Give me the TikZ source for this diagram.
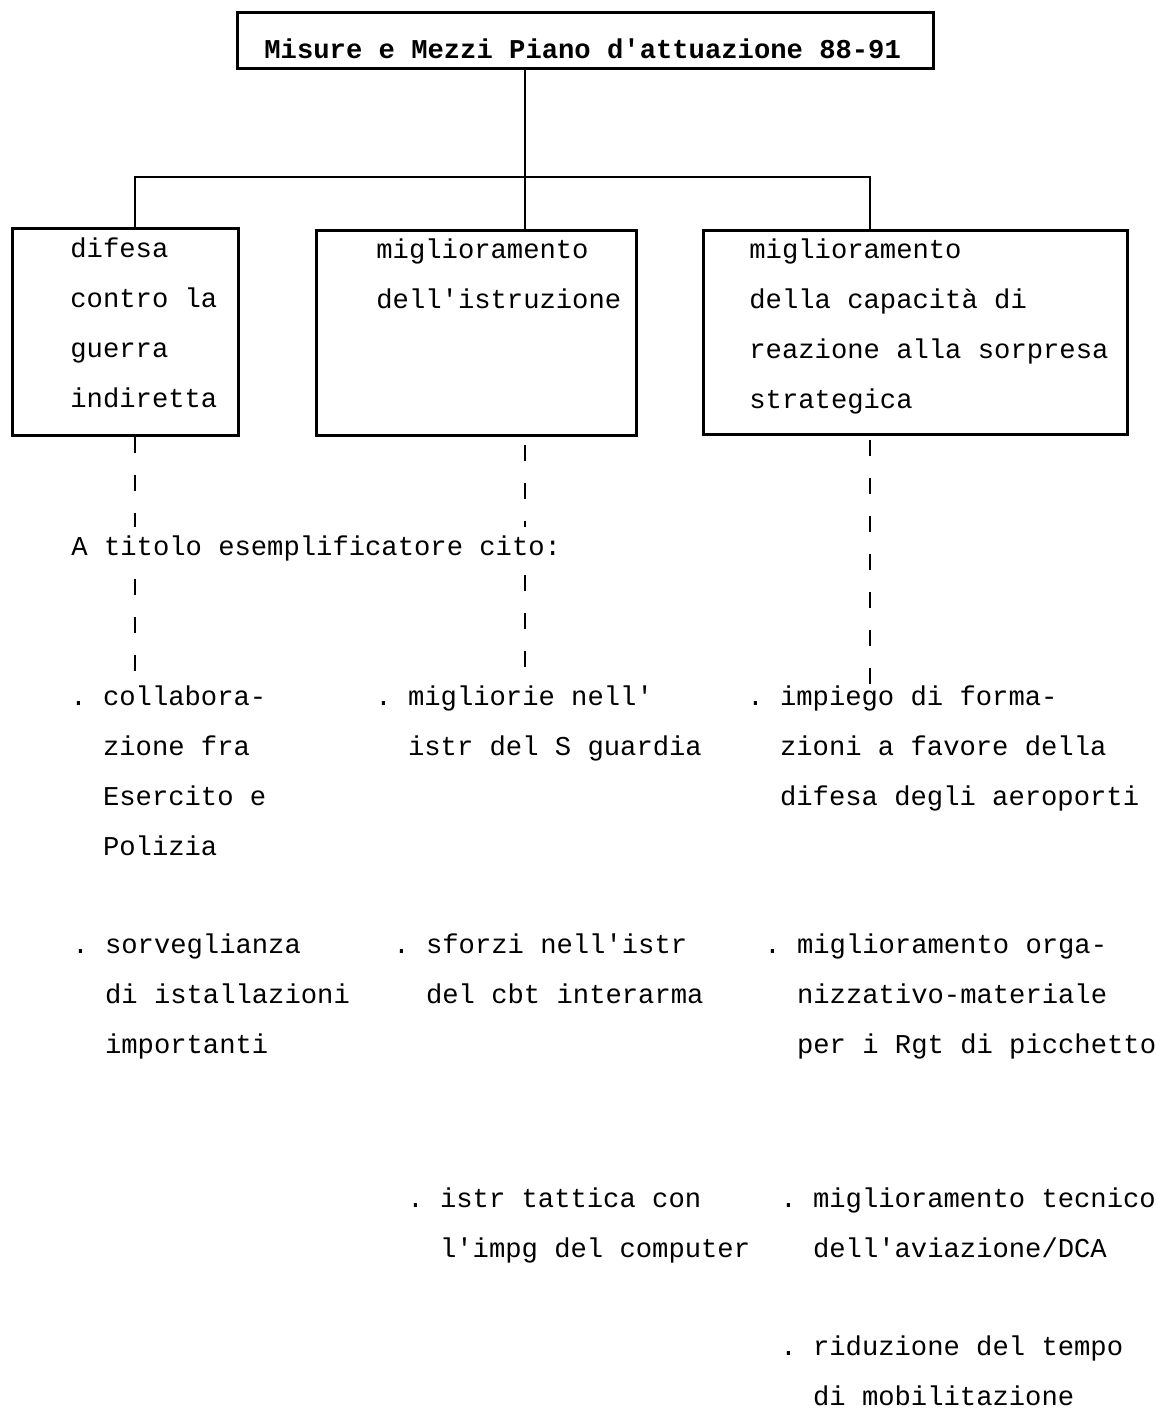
\documentclass[tikz,border=0pt]{standalone}
\usepackage{fontspec}
\setmonofont{Liberation Mono}
\usepackage{tikz}
\tikzset{
	tw/.style={font=\ttfamily\fontsize{13.6}{25}\selectfont, inner sep=0pt, anchor=base west, align=left},
	ttl/.style={tw, font=\ttfamily\bfseries\fontsize{13.6}{25}\selectfont},
	bx/.style={draw, line width=1.5pt, inner sep=0pt},
	ln/.style={line width=1pt},
	dsh/.style={line width=1.1pt, dash pattern=on 8pt off 11pt},
}
\newcommand{\ind}{\hphantom{.\ }}

\begin{document}
\begin{tikzpicture}[x=0.5pt, y=-0.5pt]
	\useasboundingbox (0,0) rectangle (1156,1409);

	\node[bx, minimum width=348pt, minimum height=28pt] (top) at (585,40) {};
	\node[ttl] (titolo) at (264,58) {Misure e Mezzi Piano d'attuazione 88-91};

	\node[bx, minimum width=113pt, minimum height=103.5pt] (b1) at (125,331.5) {};
	\node[bx, minimum width=160pt, minimum height=102.5pt] (b2) at (476,332.5) {};
	\node[bx, minimum width=212pt, minimum height=102pt] (b3) at (915,332) {};

	\node[tw] (difesa) at (70,407) {difesa\\contro la\\guerra\\indiretta};
	\node[tw] (istruz) at (376,308) {miglioramento\\dell'istruzione};
	\node[tw] (reaz) at (749,408) {miglioramento\\della capacità di\\reazione alla sorpresa\\strategica};

	\node[tw] (cito) at (71,555) {A titolo esemplificatore cito:};

	\node[tw] (c1a) at (70,855) {.\ collabora-\\\ind zione fra\\\ind Esercito e\\\ind Polizia};
	\node[tw] (c1b) at (72,1053) {.\ sorveglianza\\\ind di istallazioni\\\ind importanti};
	\node[tw] (c2a) at (375,755) {.\ migliorie nell'\\\ind istr del S guardia};
	\node[tw] (c2b) at (393,1003) {.\ sforzi nell'istr\\\ind del cbt interarma};
	\node[tw] (c2c) at (407,1257) {.\ istr tattica con\\\ind l'impg del computer};
	\node[tw] (c3a) at (747,805) {.\ impiego di forma-\\\ind zioni a favore della\\\ind difesa degli aeroporti};
	\node[tw] (c3b) at (764,1053) {.\ miglioramento orga-\\\ind nizzativo-materiale\\\ind per i Rgt di picchetto};
	\node[tw] (c3c) at (780,1257) {.\ miglioramento tecnico\\\ind dell'aviazione/DCA};
	\node[tw] (c3d) at (780,1405) {.\ riduzione del tempo\\\ind di mobilitazione};

	\coordinate (j1) at (135,177);
	\coordinate (j2) at (525,177);
	\coordinate (j3) at (870,177);

	\draw[ln] (j2 |- top.south) -- (j2 |- b2.north);
	\draw[ln] (j1 |- b1.north) -- (j1) -- (j3) -- (j3 |- b3.north);

	\draw[dsh, shorten >=4pt] (j1 |- b1.south) -- (j1 |- cito.north);
	\draw[dsh, shorten <=9pt, shorten >=2pt] (j1 |- cito.south) -- (j1 |- c1a.north);
	\draw[dsh, shorten <=4pt, shorten >=4pt] (j2 |- b2.south) -- (j2 |- cito.north);
	\draw[dsh, shorten <=7pt, shorten >=4pt] (j2 |- cito.south) -- (j2 |- c2a.north);
	\draw[dsh, shorten <=2pt] (j3 |- b3.south) -- (j3 |- c3a.north);
\end{tikzpicture}
\end{document}
